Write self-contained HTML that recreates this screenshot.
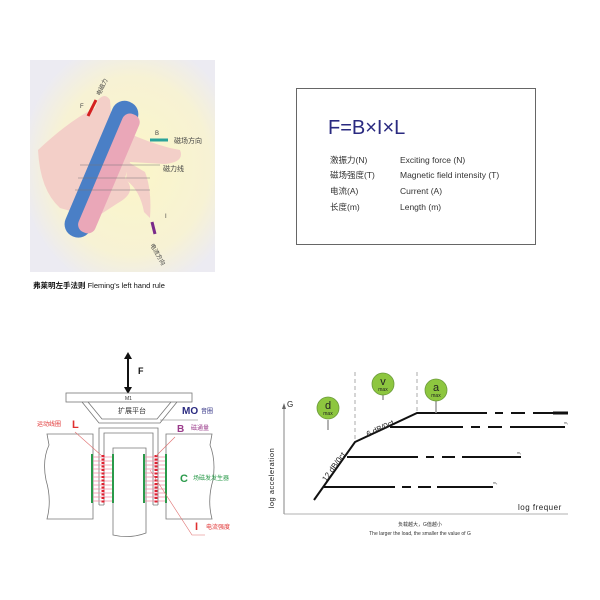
<!DOCTYPE html>
<html><head><meta charset="utf-8"><style>
body{margin:0;background:#fff;}
svg{display:block;font-family:"Liberation Sans","Noto Sans CJK SC",sans-serif;}
</style></head><body>
<svg width="600" height="600" viewBox="0 0 600 600" xmlns="http://www.w3.org/2000/svg">
<defs>
<radialGradient id="glow" cx="0.55" cy="0.5" r="0.6">
<stop offset="0" stop-color="#fbf6c8"/><stop offset="0.7" stop-color="#f7f2d4"/><stop offset="1" stop-color="#ecebf2"/>
</radialGradient>
</defs>
<!-- hand image -->
<rect x="30" y="60" width="185" height="212" fill="url(#glow)"/>
<path d="M38 150 Q70 120 95 108 L98 100 Q105 92 110 100 L112 125 Q140 140 170 148 L180 150 Q185 162 165 164 L130 162 L125 178 Q138 192 118 203 L95 218 L60 208 Q40 190 38 150Z" fill="#f3cfc8"/>
<path d="M128 162 L145 172 Q152 190 150 218 L144 212 Q140 190 126 180Z" fill="#f3cfc8"/>
<g transform="rotate(23 101 169)">
<rect x="88" y="96" width="27" height="146" rx="13" fill="#4a7fc6"/>
<rect x="101" y="106" width="18" height="128" rx="8" fill="#eaa7b8"/>
</g>
<line x1="88" y1="116" x2="96" y2="100" stroke="#d42020" stroke-width="3"/>
<text x="80" y="108" font-size="6" fill="#444">F</text>
<text x="100" y="96" font-size="6" fill="#444" transform="rotate(-65 100 96)">电磁力</text>
<line x1="150" y1="140" x2="168" y2="140" stroke="#2aa39a" stroke-width="3"/>
<text x="155" y="135" font-size="6" fill="#444">B</text>
<text x="174" y="143" font-size="7" fill="#444">磁场方向</text>
<line x1="152" y1="222" x2="155" y2="234" stroke="#7a2a8a" stroke-width="3"/>
<text x="165" y="218" font-size="6" fill="#444">I</text>
<text x="150" y="245" font-size="6" fill="#444" transform="rotate(60 150 245)">电流方向</text>
<text x="163" y="171" font-size="7" fill="#444">磁力线</text>
<g stroke="#777" stroke-width="0.6"><line x1="80" y1="165" x2="160" y2="165"/><line x1="78" y1="178" x2="150" y2="178"/><line x1="75" y1="190" x2="150" y2="190"/></g>
<text x="33" y="288" font-size="7.5" fill="#111"><tspan font-weight="bold">弗莱明左手法则</tspan> Fleming's left hand rule</text>

<!-- formula box -->
<rect x="296.5" y="88.5" width="239" height="156" fill="#fff" stroke="#666" stroke-width="1"/>
<text x="328" y="134" font-size="20" fill="#2a2a80">F=B×I×L</text>
<g font-size="8.5" fill="#333">
<text x="330" y="163">激振力(N)</text><text x="330" y="178">磁场强度(T)</text><text x="330" y="194">电流(A)</text><text x="330" y="210">长度(m)</text>
<text x="400" y="163">Exciting force (N)</text><text x="400" y="178">Magnetic field intensity (T)</text><text x="400" y="194">Current (A)</text><text x="400" y="210">Length (m)</text>
</g>

<!-- speaker diagram -->
<line x1="128" y1="357" x2="128" y2="389" stroke="#111" stroke-width="2"/>
<polygon points="124,359 132,359 128,352" fill="#111"/><polygon points="124,387 132,387 128,394" fill="#111"/>
<text x="138" y="374" font-size="9" font-weight="bold" fill="#111">F</text>
<rect x="66" y="393" width="126" height="9" fill="#fff" stroke="#777" stroke-width="0.8"/>
<text x="125" y="400" font-size="5" fill="#333">M1</text>
<path d="M82 402 L99 423 L160 423 L177 402" fill="none" stroke="#777" stroke-width="0.8"/>
<path d="M88 402 L102 419 L157 419 L171 402" fill="none" stroke="#777" stroke-width="0.8"/>
<text x="118" y="413" font-size="7" fill="#333">扩展平台</text>
<text x="182" y="414" font-size="10" font-weight="bold" fill="#2a2a80">MO</text>
<text x="201" y="413" font-size="6" fill="#2a2a80">音圈</text>
<line x1="160" y1="420" x2="198" y2="420" stroke="#777" stroke-width="0.6"/>
<path d="M99 505 V428 H158 V505 M104 505 V433 H153 V505 M99 505 H104 M153 505 H158" fill="none" stroke="#777" stroke-width="0.8"/>
<path d="M47 434 H93 V519 H47 Q52 500 46 480 Q42 460 49 445 Z" fill="#fff" stroke="#777" stroke-width="0.8"/>
<path d="M212 434 H166 V519 H212 Q207 500 213 480 Q216 460 210 445 Z" fill="#fff" stroke="#777" stroke-width="0.8"/>
<path d="M113 448 H146 V533 Q130 539 113 535 Z" fill="#fff" stroke="#777" stroke-width="0.8"/>
<g stroke="#f08aa0" stroke-width="0.7">
<line x1="92" y1="457" x2="113" y2="457"/><line x1="92" y1="461" x2="113" y2="461"/><line x1="92" y1="465" x2="113" y2="465"/><line x1="92" y1="469" x2="113" y2="469"/><line x1="92" y1="473" x2="113" y2="473"/><line x1="92" y1="477" x2="113" y2="477"/><line x1="92" y1="481" x2="113" y2="481"/><line x1="92" y1="485" x2="113" y2="485"/><line x1="92" y1="489" x2="113" y2="489"/><line x1="92" y1="493" x2="113" y2="493"/><line x1="92" y1="497" x2="113" y2="497"/><line x1="92" y1="501" x2="113" y2="501"/>
<line x1="144" y1="457" x2="166" y2="457"/><line x1="144" y1="461" x2="166" y2="461"/><line x1="144" y1="465" x2="166" y2="465"/><line x1="144" y1="469" x2="166" y2="469"/><line x1="144" y1="473" x2="166" y2="473"/><line x1="144" y1="477" x2="166" y2="477"/><line x1="144" y1="481" x2="166" y2="481"/><line x1="144" y1="485" x2="166" y2="485"/><line x1="144" y1="489" x2="166" y2="489"/><line x1="144" y1="493" x2="166" y2="493"/><line x1="144" y1="497" x2="166" y2="497"/><line x1="144" y1="501" x2="166" y2="501"/>
</g>
<g stroke="#2a9a4a" stroke-width="2"><line x1="92" y1="454" x2="92" y2="503"/><line x1="113" y1="454" x2="113" y2="503"/><line x1="144" y1="454" x2="144" y2="503"/><line x1="166" y1="454" x2="166" y2="503"/></g>
<g stroke="#e02030" stroke-width="3" stroke-dasharray="2 1.5"><line x1="103" y1="455" x2="103" y2="503"/><line x1="156" y1="455" x2="156" y2="503"/></g>
<g stroke="#e07070" stroke-width="0.6" fill="none"><path d="M75 432 L102 456"/><path d="M175 437 L156 456"/><path d="M150 470 L192 535 H205"/></g>
<text x="37" y="426" font-size="6" fill="#e03030">运动线圈</text>
<text x="72" y="428" font-size="11" font-weight="bold" fill="#e03030">L</text>
<text x="177" y="432" font-size="10" font-weight="bold" fill="#9a3a8a">B</text>
<text x="191" y="430" font-size="6" fill="#9a3a8a">磁通量</text>
<text x="180" y="482" font-size="11" font-weight="bold" fill="#2a9a4a">C</text>
<text x="193" y="480" font-size="6" fill="#2a9a4a">场磁发发生器</text>
<text x="195" y="530" font-size="11" font-weight="bold" fill="#e03030">I</text>
<text x="206" y="529" font-size="6" fill="#e03030">电流强度</text>

<!-- chart -->
<line x1="284" y1="407" x2="284" y2="514" stroke="#666" stroke-width="0.8"/>
<polygon points="282,409 286,409 284,403" fill="#666"/>
<line x1="284" y1="514" x2="568" y2="514" stroke="#999" stroke-width="0.8"/>
<text x="287" y="407" font-size="8" fill="#222">G</text>
<text x="274" y="478" font-size="7.5" fill="#222" transform="rotate(-90 274 478)" text-anchor="middle" letter-spacing="0.5">log acceleration</text>
<text x="518" y="510" font-size="8" fill="#222" letter-spacing="0.5">log frequer</text>
<g stroke="#888" stroke-width="0.7" stroke-dasharray="4 3"><line x1="355" y1="372" x2="355" y2="442"/><line x1="417" y1="372" x2="417" y2="413"/></g>
<g stroke="#111" stroke-width="2" fill="none">
<path d="M314 500 L355 442 L417 413 H487"/>
<path d="M495 413 H503 M511 413 H525 M533 413 H568" />
<line x1="553" y1="413" x2="568" y2="413" stroke-width="3"/>
<path d="M390 427 H463 M471 427 H480 M488 427 H502 M510 427 H565"/>
<path d="M347 457 H418 M426 457 H434 M442 457 H455 M462 457 H521"/>
<path d="M324 487 H395 M402 487 H411 M418 487 H431 M437 487 H493"/>
</g>
<g font-size="3.5" fill="#444"><text x="564" y="424">m₁</text><text x="517" y="454">m₂</text><text x="493" y="484">m₃</text></g>
<text x="368" y="437" font-size="8" fill="#222" transform="rotate(-25 368 437)">6 dB/0ct</text>
<text x="326" y="482" font-size="8" fill="#222" transform="rotate(-54 326 482)">12 dB/0ct</text>
<g stroke="#999" stroke-width="1.5"><line x1="328" y1="420" x2="328" y2="430"/><line x1="383" y1="394" x2="383" y2="400"/><line x1="436" y1="400" x2="436" y2="413"/></g>
<g fill="#8dc63f" stroke="#6a9a3a" stroke-width="0.8"><circle cx="328" cy="408" r="11"/><circle cx="383" cy="384" r="11"/><circle cx="436" cy="390" r="11"/></g>
<g fill="#222" text-anchor="middle"><text x="328" y="409" font-size="11">d</text><text x="328" y="415" font-size="5">max</text>
<text x="383" y="385" font-size="11">v</text><text x="383" y="391" font-size="5">max</text>
<text x="436" y="391" font-size="11">a</text><text x="436" y="397" font-size="5">max</text></g>
<text x="420" y="526" font-size="5" fill="#333" text-anchor="middle">负载越大，G值越小</text>
<text x="420" y="535" font-size="5" fill="#333" text-anchor="middle">The larger the load, the smaller the value of G</text>
</svg>
</body></html>
